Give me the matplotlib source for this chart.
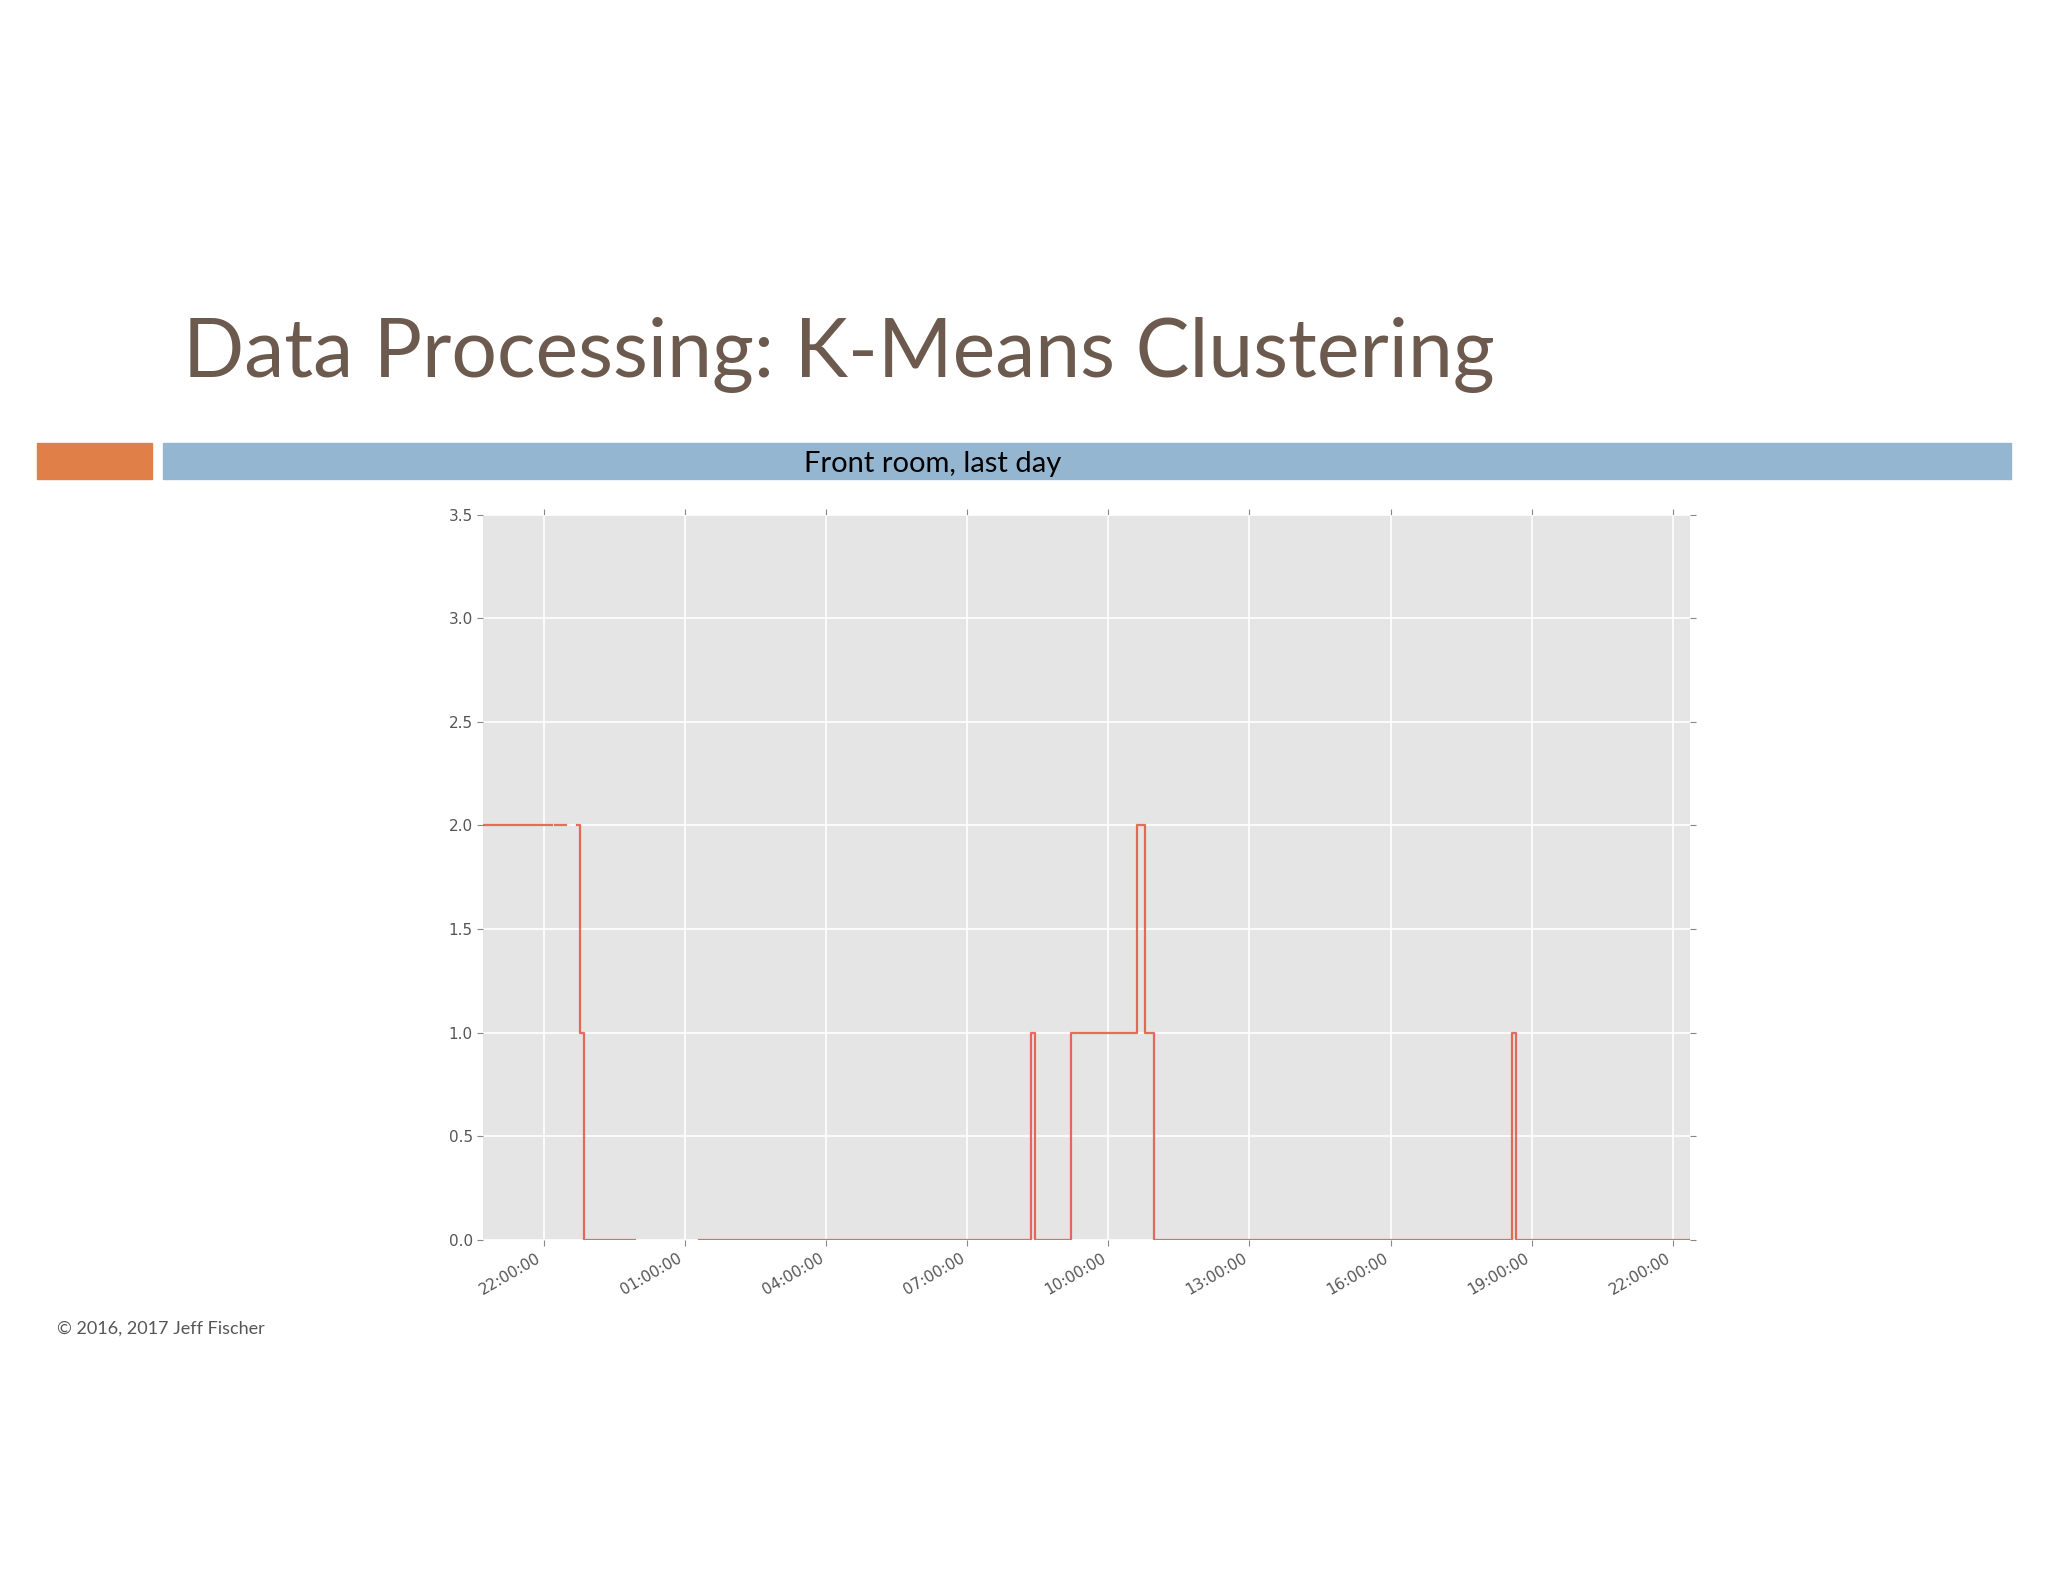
import matplotlib
matplotlib.use("Agg")
import matplotlib.pyplot as plt
import matplotlib.dates as mdates
import pandas as pd
import numpy as np
from matplotlib.patches import Rectangle

title = "Data Processing: K-Means Clustering"
subtitle = "Front room, last day"
copyright_text = "\u00a9 2016, 2017 Jeff Fischer"

step_times = ["2016-01-01 20:43", "2016-01-01 22:11", "2016-01-01 22:14", "2016-01-01 22:28",
              "2016-01-01 22:43", "2016-01-01 22:46", "2016-01-01 22:52", "2016-01-01 23:57",
              "2016-01-02 01:18", "2016-01-02 08:21", "2016-01-02 08:27", "2016-01-02 09:12",
              "2016-01-02 10:37", "2016-01-02 10:47", "2016-01-02 10:58", "2016-01-02 18:35",
              "2016-01-02 18:40", "2016-01-02 22:22"]
step_values = [2.0, np.nan, 2.0, np.nan, 2.0, 1.0, 0.0, np.nan,
               0.0, 1.0, 0.0, 1.0, 2.0, 1.0, 0.0, 1.0, 0.0, 0.0]
x_ticks = ["2016-01-01 22:00", "2016-01-02 01:00", "2016-01-02 04:00", "2016-01-02 07:00",
           "2016-01-02 10:00", "2016-01-02 13:00", "2016-01-02 16:00", "2016-01-02 19:00",
           "2016-01-02 22:00"]
y_ticks = [0.0, 0.5, 1.0, 1.5, 2.0, 2.5, 3.0, 3.5]

W, H = 1568, 1211
fig = plt.figure(figsize=(20.48, 15.82), dpi=100)
fig.patch.set_facecolor("white")

def fx(x): return x / W
def fy(y): return 1 - y / H

fig.text(fx(140), fy(272), title, fontsize=58, color="#6d5a4e", family="Lato",
         va="center", ha="left")
fig.patches.append(Rectangle((fx(28), fy(367)), fx(116) - fx(28), fy(339) - fy(367),
                             transform=fig.transFigure, color="#e07f48"))
fig.patches.append(Rectangle((fx(125), fy(367)), fx(1540) - fx(125), fy(339) - fy(367),
                             transform=fig.transFigure, color="#95b6d0"))
fig.text(fx(714), fy(355), subtitle, fontsize=21, color="black", family="Lato",
         ha="center", va="center")
fig.text(fx(44), fy(1017), copyright_text, fontsize=13, color="#555555", family="Lato",
         ha="left", va="center")

ax = fig.add_axes([fx(370), fy(949), fx(1294) - fx(370), fy(394) - fy(949)])
ax.set_facecolor("#e5e5e5")
t = pd.to_datetime(step_times)
ax.plot(t, step_values, drawstyle="steps-post", color="#E24A33", alpha=0.8, lw=1.6)
ax.set_xlim(pd.Timestamp("2016-01-01 20:43"), pd.Timestamp("2016-01-02 22:22"))
ax.set_ylim(0, 3.5)
ax.set_yticks(y_ticks)
ax.set_yticklabels([f"{v:.1f}" for v in y_ticks])
ax.set_xticks(pd.to_datetime(x_ticks))
ax.xaxis.set_major_formatter(mdates.DateFormatter("%H:%M:%S"))
for s in ax.spines.values():
    s.set_visible(False)
ax.grid(True, color="white", lw=1.2)
ax.set_axisbelow(True)
ax.tick_params(axis="both", colors="#888888", labelcolor="#555555", labelsize=11,
               length=4, direction="out", top=True, right=True)
for lbl in ax.get_xticklabels():
    lbl.set_rotation(30)
    lbl.set_ha("right")

fig.savefig("out.png", dpi=100)
